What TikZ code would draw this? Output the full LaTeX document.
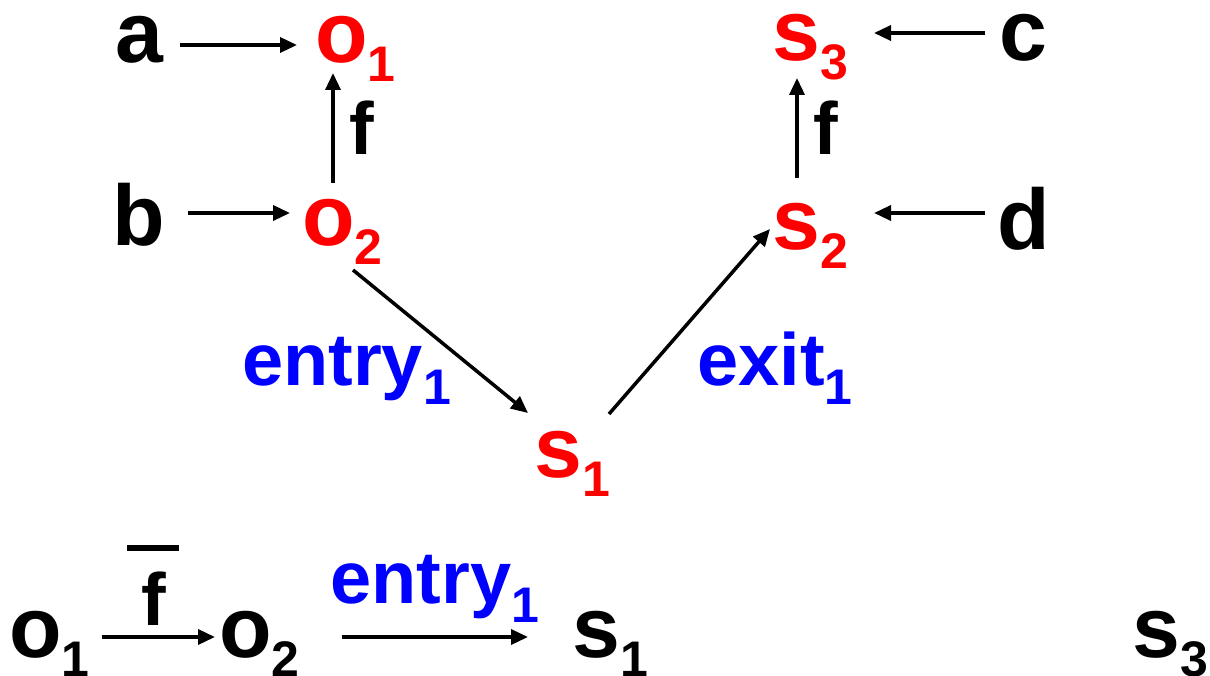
\documentclass[tikz,border=0pt]{standalone}
\usepackage{fontspec}
\setmainfont{Liberation Sans}
\usepackage{xcolor}
\definecolor{vred}{RGB}{255,0,0}
\definecolor{lblue}{RGB}{0,0,255}
\usetikzlibrary{arrows.meta}
\newcommand\bigfont{\fontsize{86}{90}\selectfont\bfseries}
\newcommand\midfont{\fontsize{74}{78}\selectfont\bfseries}
\newcommand\subs[1]{\raisebox{-19pt}{\fontsize{50}{52}\selectfont #1}}

\begin{document}
\begin{tikzpicture}[x=1pt, y=-1pt,
  vtx/.style={font=\bigfont, inner sep=0pt, anchor=base west},
  redvtx/.style={vtx, text=vred},
  lbl/.style={font=\midfont, inner sep=0pt},
  bluelbl/.style={lbl, text=lblue},
  flowarr/.style={-{Triangle[length=17pt, width=15pt]}, line width=3.5pt}
]
  \useasboundingbox (0,0) rectangle (1210,676);

  % ── Left square ──
  \node[vtx]    (a)  at (115,63)  {a};
  \node[redvtx] (o1) at (315,63)  {o\subs{1}};
  \node[vtx]    (b)  at (112,246) {b};
  \node[redvtx] (o2) at (302,246) {o\subs{2}};
  \draw[flowarr] ([xshift=17pt,yshift=18pt]a.base east) -- ([xshift=-18pt,yshift=18pt]o1.base west);
  \draw[flowarr] ([xshift=23pt,yshift=33pt]b.base east) -- ([xshift=-12pt,yshift=33pt]o2.base west);
  \draw[flowarr] ([xshift=31pt,yshift=63pt]o2.base west) -- ([xshift=18pt,yshift=-10pt]o1.base west)
    node[lbl, midway, right=15pt] (f1) {f};

  % ── Right square ──
  \node[redvtx] (s3) at (772,61)  {s\subs{3}};
  \node[vtx]    (c)  at (999,61)  {c};
  \node[redvtx] (s2) at (772,250) {s\subs{2}};
  \node[vtx]    (d)  at (997,250) {d};
  \draw[flowarr] ([xshift=-14pt,yshift=28pt]c.base west) -- ([xshift=26pt,yshift=28pt]s3.base east);
  \draw[flowarr] ([xshift=-12pt,yshift=37pt]d.base west) -- ([xshift=26pt,yshift=37pt]s2.base east);
  \draw[flowarr] ([xshift=25pt,yshift=72pt]s2.base west) -- ([xshift=25pt,yshift=-17pt]s3.base west)
    node[lbl, midway, right=15pt] (f2) {f};

  % ── Middle vertex ──
  \node[redvtx] (s1) at (534,477) {s\subs{1}};
  \draw[flowarr] ([xshift=51pt,yshift=-24pt]o2.base west) -- ([xshift=-6pt,yshift=64pt]s1.base west);
  \draw[flowarr] ([xshift=75pt,yshift=63pt]s1.base west) -- ([xshift=-2pt,yshift=21pt]s2.base west);
  \node[bluelbl, anchor=base west] (entry) at (242,385) {entry\subs{1}};
  \node[bluelbl, anchor=base west] (exit)  at (697,385) {exit\subs{1}};

  % ── Bottom row ──
  \node[vtx] (lo1) at (9,657)    {o\subs{1}};
  \node[vtx] (lo2) at (219,657)  {o\subs{2}};
  \node[vtx] (ls1) at (572,657)  {s\subs{1}};
  \node[vtx] (ls3) at (1132,657) {s\subs{3}};
  \draw[flowarr] ([xshift=12pt,yshift=20pt]lo1.base east) -- ([xshift=-4pt,yshift=20pt]lo2.base west)
    node[lbl, midway, above=10pt, xshift=-5pt] (fbar) {\makebox[52pt]{f}\llap{\rule[74pt]{52pt}{6pt}}};
  \draw[flowarr] ([xshift=42pt,yshift=20pt]lo2.base east) -- ([xshift=-44pt,yshift=20pt]ls1.base west)
    node[bluelbl, midway, above=13pt] (lentry) {entry\subs{1}};

\end{tikzpicture}
\end{document}
